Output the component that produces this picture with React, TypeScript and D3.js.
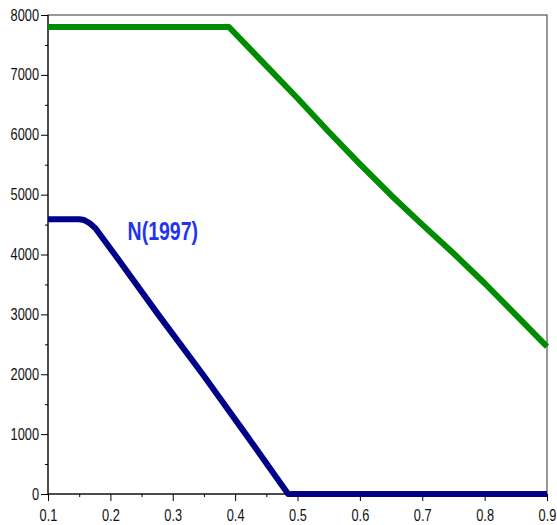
import { useEffect, useRef } from 'react';
import * as d3 from 'd3';

// values
const greenX = [0.1, 0.39, 0.45, 0.5, 0.55, 0.6, 0.65, 0.7, 0.75, 0.8, 0.85, 0.9];
const greenY = [7800, 7800, 7150, 6610, 6050, 5510, 4990, 4500, 4020, 3520, 2990, 2460];

const blueX = [0.1, 0.15, 0.158, 0.166, 0.176, 0.207, 0.2765, 0.348, 0.417, 0.485, 0.9];
const blueY = [4590, 4590, 4575, 4530, 4440, 4000, 3000, 2000, 1000, 0, 0];

const xTicks = [0.1, 0.2, 0.3, 0.4, 0.5, 0.6, 0.7, 0.8, 0.9];
const yTicks = [0, 1000, 2000, 3000, 4000, 5000, 6000, 7000, 8000];

const blueLabel = 'N(1997)';

const W = 557;
const H = 525;
const NARROW = 0.8; // squeeze factor to mimic a condensed face

export default function App() {
    const svgRef = useRef<SVGSVGElement>(null);

    useEffect(() => {
        if (!svgRef.current) return;
        const svg = d3.select(svgRef.current);
        svg.selectAll('*').remove();

        const margin = { top: 15, right: 10, bottom: 31, left: 48 };
        const x = d3.scaleLinear().domain([0.1, 0.9]).range([margin.left, W - margin.right]);
        const y = d3.scaleLinear().domain([0, 8000]).range([H - margin.bottom, margin.top]);

        const font = '"Liberation Sans", Arial, sans-serif';

        // frame (top + right)
        svg.append('rect')
            .attr('x', x(0.1))
            .attr('y', y(8000))
            .attr('width', x(0.9) - x(0.1))
            .attr('height', y(0) - y(8000))
            .attr('fill', 'none')
            .attr('stroke', '#333')
            .attr('stroke-width', 1);

        // minor ticks
        const xMinor = d3.range(0.15, 0.9, 0.1);
        const yMinor = d3.range(500, 8000, 1000);

        svg.append('g')
            .attr('transform', `translate(0,${y(0)})`)
            .call(d3.axisBottom(x).tickValues(xMinor).tickSize(3).tickFormat(() => ''))
            .call((g) => g.select('.domain').remove())
            .call((g) => g.selectAll('.tick line').attr('stroke', '#000'));

        svg.append('g')
            .attr('transform', `translate(${x(0.1)},0)`)
            .call(d3.axisLeft(y).tickValues(yMinor).tickSize(3).tickFormat(() => ''))
            .call((g) => g.select('.domain').remove())
            .call((g) => g.selectAll('.tick line').attr('stroke', '#000'));

        // major axes
        svg.append('g')
            .attr('transform', `translate(0,${y(0)})`)
            .call(d3.axisBottom(x).tickValues(xTicks).tickSize(7).tickPadding(9).tickFormat(d3.format('.1f')))
            .call((g) => g.select('.domain').attr('stroke', '#000').attr('d', `M${x(0.1)},0H${x(0.9)}`))
            .call((g) => g.selectAll('.tick line').attr('stroke', '#000'))
            .call((g) =>
                g.selectAll('.tick text')
                    .attr('fill', '#111')
                    .attr('font-family', font)
                    .attr('font-size', '16px')
                    .attr('transform', `scale(${NARROW},1)`)
            );

        svg.append('g')
            .attr('transform', `translate(${x(0.1)},0)`)
            .call(d3.axisLeft(y).tickValues(yTicks).tickSize(7).tickPadding(2).tickFormat(d3.format('d')))
            .call((g) => g.select('.domain').attr('stroke', '#000').attr('d', `M0,${y(0)}V${y(8000)}`))
            .call((g) => g.selectAll('.tick line').attr('stroke', '#000'))
            .call((g) =>
                g.selectAll('.tick text')
                    .attr('fill', '#111')
                    .attr('font-family', font)
                    .attr('font-size', '16px')
                    .attr('x', -9 / NARROW)
                    .attr('transform', `scale(${NARROW},1)`)
            );

        const line = d3
            .line<[number, number]>()
            .x((d) => x(d[0]))
            .y((d) => y(d[1]));

        const green: [number, number][] = greenX.map((v, i) => [v, greenY[i]]);
        const blue: [number, number][] = blueX.map((v, i) => [v, blueY[i]]);

        svg.append('path')
            .datum(green)
            .attr('fill', 'none')
            .attr('stroke', '#008c00')
            .attr('stroke-width', 6)
            .attr('stroke-linejoin', 'round')
            .attr('d', line);

        svg.append('path')
            .datum(blue)
            .attr('fill', 'none')
            .attr('stroke', '#000088')
            .attr('stroke-width', 6)
            .attr('stroke-linejoin', 'round')
            .attr('d', line);

        // series label
        svg.append('text')
            .attr('transform', `translate(${x(0.284)},${y(4240)}) scale(0.75,1)`)
            .attr('text-anchor', 'middle')
            .attr('font-family', font)
            .attr('font-weight', 'bold')
            .attr('font-size', '26px')
            .attr('fill', '#1f35f0')
            .text(blueLabel);
    }, []);

    return (
        <svg
            ref={svgRef}
            width={W}
            height={H}
            style={{ position: 'absolute', left: 0, top: 0, background: '#fff' }}
        />
    );
}
